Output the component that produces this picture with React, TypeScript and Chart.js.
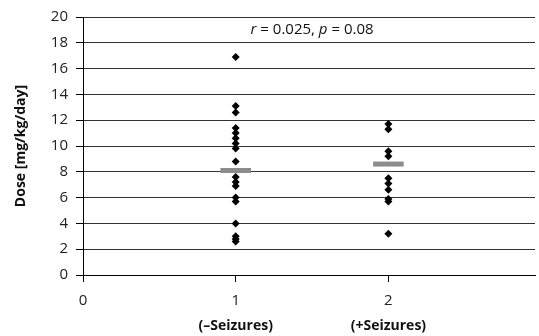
import React, { useEffect, useRef } from "react";
import { Chart, registerables } from "chart.js";
Chart.register(...registerables);

const groupX = [1, 2];
const groupLabels = ["(\u2013Seizures)", "(+Seizures)"];
const dosesNoSeizures = [16.9, 13.1, 12.6, 11.4, 11.0, 10.6, 10.2, 9.8, 8.8, 7.6, 7.2, 6.9, 6.0, 5.7, 4.0, 3.0, 2.8, 2.6];
const dosesSeizures = [11.7, 11.3, 9.6, 9.2, 7.5, 7.1, 6.6, 5.9, 5.7, 3.2];
const means = [8.1, 8.6];
const yTicks = [0, 2, 4, 6, 8, 10, 12, 14, 16, 18, 20];
const xTicks = [0, 1, 2];
const annotationParts = [
  { t: "r", italic: true },
  { t: " = 0.025, ", italic: false },
  { t: "p", italic: true },
  { t: " = 0.08", italic: false },
];

const FONT = "'Open Sans', 'Noto Sans', sans-serif";

export default function App() {
  const ref = useRef<HTMLCanvasElement | null>(null);
  useEffect(() => {
    if (!ref.current) return;
    const pts = [
      ...dosesNoSeizures.map((y) => ({ x: groupX[0], y })),
      ...dosesSeizures.map((y) => ({ x: groupX[1], y })),
    ];
    const meanSets = means.map((m, i) => ({
      type: "line" as const,
      data: [
        { x: groupX[i] - 0.1, y: m },
        { x: groupX[i] + 0.1, y: m },
      ],
      borderColor: "#8c8c8c",
      borderWidth: 5,
      pointRadius: 0,
      showLine: true,
      borderCapStyle: "butt" as const,
      order: 0,
    }));
    const annot = {
      id: "annot",
      afterDatasetsDraw(chart: any) {
        const ctx = chart.ctx;
        const xs = chart.scales.x;
        const ys = chart.scales.y;
        const cx = xs.getPixelForValue(1.5);
        const cy = ys.getPixelForValue(19);
        ctx.save();
        ctx.fillStyle = "#111";
        ctx.textBaseline = "middle";
        let total = 0;
        const fonts = annotationParts.map((p) => (p.italic ? "italic " : "") + "15px " + FONT);
        annotationParts.forEach((p, i) => {
          ctx.font = fonts[i];
          total += ctx.measureText(p.t).width;
        });
        let x = cx - total / 2;
        annotationParts.forEach((p, i) => {
          ctx.font = fonts[i];
          ctx.textAlign = "left";
          ctx.fillText(p.t, x, cy);
          x += ctx.measureText(p.t).width;
        });
        ctx.restore();
      },
    };
    const chart = new Chart(ref.current, {
      type: "scatter",
      data: {
        datasets: [
          {
            data: pts,
            pointStyle: "rectRot",
            pointRadius: 4,
            backgroundColor: "#000",
            borderColor: "#000",
            borderWidth: 0,
            order: 1,
          } as any,
          ...meanSets,
        ],
      },
      options: {
        animation: false,
        responsive: true,
        maintainAspectRatio: false,
        layout: { padding: { top: 17, right: 1, left: 0, bottom: 0 } },
        plugins: { legend: { display: false }, tooltip: { enabled: false } },
        scales: {
          x: {
            type: "linear",
            min: 0,
            max: 2.96,
            afterBuildTicks: (s: any) => {
              s.ticks = xTicks.map((v) => ({ value: v }));
            },
            afterFit: (s: any) => {
              s.height = 30;
            },
            grid: { display: true, drawOnChartArea: false, drawTicks: true, tickLength: 7, tickColor: "#000" } as any,
            border: { color: "#000", width: 1 },
            ticks: { color: "#222", font: { family: FONT, size: 15 }, padding: 10, maxRotation: 0 },
          },
          x2: {
            type: "linear",
            position: "bottom",
            min: 0,
            max: 2.96,
            afterBuildTicks: (s: any) => {
              s.ticks = groupX.map((v) => ({ value: v }));
            },
            afterFit: (s: any) => {
              s.height = 31;
            },
            grid: { display: false, drawTicks: false },
            border: { display: false },
            ticks: {
              color: "#111",
              font: { family: FONT, size: 14, weight: "bold" },
              padding: 13,
              maxRotation: 0,
              callback: (v: any) => groupLabels[groupX.indexOf(Number(v))] ?? "",
            },
          } as any,
          y: {
            min: 0,
            max: 20,
            afterBuildTicks: (s: any) => {
              s.ticks = yTicks.map((v) => ({ value: v }));
            },
            afterFit: (s: any) => {
              s.width = 83;
            },
            grid: { color: "#333", lineWidth: 1, tickLength: 7, tickColor: "#000" } as any,
            border: { color: "#000", width: 1 },
            ticks: { color: "#222", font: { family: FONT, size: 15 }, padding: 8 },
            title: {
              display: true,
              text: "Dose [mg/kg/day]",
              color: "#111",
              font: { family: FONT, size: 14, weight: "bold" },
              padding: { top: 13, bottom: 0 },
            },
          },
        },
      },
      plugins: [annot],
    });
    return () => chart.destroy();
  }, []);
  return (
    <div style={{ position: "fixed", left: 0, top: 0, width: 539, height: 336, background: "#fff" }}>
      <canvas ref={ref} />
    </div>
  );
}
